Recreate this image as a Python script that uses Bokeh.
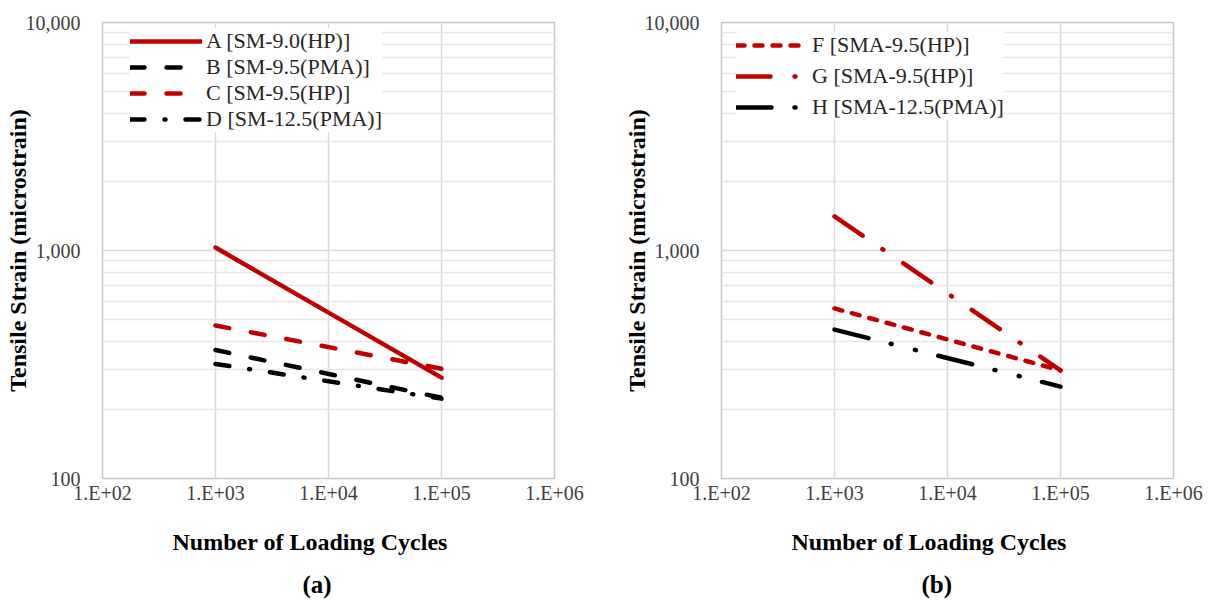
from bokeh.plotting import figure
from bokeh.layouts import row
from bokeh.models import (Range1d, FixedTicker, CustomJSTickFormatter, NumeralTickFormatter,
                          Legend, LegendItem, Title)
from bokeh.embed import file_html
from bokeh.resources import INLINE

# ---------------- data ----------------
cycles = [1e3, 1e5]

# panel (a)
A_sm90_hp = [1030, 277]
B_sm95_pma = [366, 226]
C_sm95_hp = [469, 303]
D_sm125_pma = [318, 224]

# panel (b)
F_sma95_hp = [557, 298]
G_sma95_hp = [1410, 298]
H_sma125_pma = [450, 253]

labels_a = ["A [SM-9.0(HP)]", "B [SM-9.5(PMA)]", "C [SM-9.5(HP)]", "D [SM-12.5(PMA)]"]
labels_b = ["F [SMA-9.5(HP)]", "G [SMA-9.5(HP)]", "H [SMA-12.5(PMA)]"]

x_ticks = [1e2, 1e3, 1e4, 1e5, 1e6]
y_ticks = [100, 1000, 10000]
y_minor = [200, 300, 400, 500, 600, 700, 800, 900,
           2000, 3000, 4000, 5000, 6000, 7000, 8000, 9000]

x_title = "Number of Loading Cycles"
y_title = "Tensile Strain (microstrain)"

RED = "#C00000"
BLACK = "#000000"
FONT = "Liberation Serif"


def make_panel(series, caption, ml, mr, leg_x, leg_y, leg_spacing):
    p = figure(x_axis_type="log", y_axis_type="log",
               x_range=Range1d(1e2, 1e6), y_range=Range1d(100, 10000),
               frame_width=452, frame_height=456,
               min_border_left=ml, min_border_right=mr,
               min_border_top=22, min_border_bottom=123,
               output_backend="svg", toolbar_location=None,
               background_fill_color="white", border_fill_color="white")
    p.outline_line_color = "#c8c8c8"
    p.outline_line_width = 1.5

    p.xaxis.ticker = FixedTicker(ticks=x_ticks, minor_ticks=[])
    p.yaxis.ticker = FixedTicker(ticks=y_ticks, minor_ticks=y_minor)
    p.xaxis.formatter = CustomJSTickFormatter(
        code="const e = Math.round(Math.log10(tick)); return '1.E+' + (e < 10 ? '0' : '') + e;")
    p.yaxis.formatter = NumeralTickFormatter(format="0,0")

    for ax in (p.xaxis, p.yaxis):
        ax.axis_line_color = None
        ax.major_tick_line_color = None
        ax.minor_tick_line_color = None
        ax.major_tick_out = 0
        ax.major_tick_in = 0
        ax.major_label_text_font = FONT
        ax.major_label_text_font_size = "20px"
        ax.major_label_text_color = "#404040"

    p.xaxis.major_label_standoff = 3
    p.yaxis.axis_label = y_title
    p.yaxis.axis_label_text_font = FONT
    p.yaxis.axis_label_text_font_style = "bold"
    p.yaxis.axis_label_text_color = "#000000"
    p.yaxis.axis_label_text_font_size = "24px"
    p.yaxis.major_label_standoff = 18
    p.yaxis.axis_label_standoff = -8

    p.xgrid.grid_line_color = "#d9d9d9"
    p.xgrid.grid_line_width = 1.5
    p.ygrid.grid_line_color = "#d9d9d9"
    p.ygrid.grid_line_width = 1.5
    p.ygrid.minor_grid_line_color = "#e6e6e6"
    p.ygrid.minor_grid_line_width = 1.5

    items = []
    for label, vals, color, dash in series:
        r = p.line(cycles, vals, line_color=color, line_width=4.5,
                   line_dash=dash, line_cap="round")
        items.append(LegendItem(label=label, renderers=[r]))

    legend = Legend(items=items, location=(leg_x, leg_y),
                    padding=3, margin=0, spacing=leg_spacing,
                    glyph_width=72, glyph_height=24, label_height=24,
                    label_standoff=4,
                    label_text_font=FONT, label_text_font_size="22px",
                    label_text_color="#262626",
                    background_fill_color="white", background_fill_alpha=1.0,
                    border_line_color=None)
    p.add_layout(legend)

    # x-axis title and panel caption below the axis
    p.add_layout(Title(text=x_title, align="left", offset=70, standoff=41,
                       text_font=FONT, text_font_size="24px",
                       text_font_style="bold", text_color="#000000"), "below")
    p.add_layout(Title(text=caption, align="left", offset=200, standoff=-14,
                       text_font=FONT, text_font_size="25px",
                       text_font_style="bold", text_color="#000000"), "below")
    return p


series_a = [
    (labels_a[0], A_sm90_hp, RED, "solid"),
    (labels_a[1], B_sm95_pma, BLACK, "14 22"),
    (labels_a[2], C_sm95_hp, RED, "14 22"),
    (labels_a[3], D_sm125_pma, BLACK, "14 20 1 20"),
]
series_b = [
    (labels_b[0], F_sma95_hp, RED, "8 10"),
    (labels_b[1], G_sma95_hp, RED, "34 24 1 24"),
    (labels_b[2], H_sma125_pma, BLACK, "35 23 1 24 1 23"),
]

pa = make_panel(series_a, "(a)", 102, 51, 28, 346, 0)
pb = make_panel(series_b, "(b)", 116, 38, 15, 358, 5)

layout = row(pa, pb, spacing=0)
open("out.html", "w").write(file_html(layout, INLINE))
